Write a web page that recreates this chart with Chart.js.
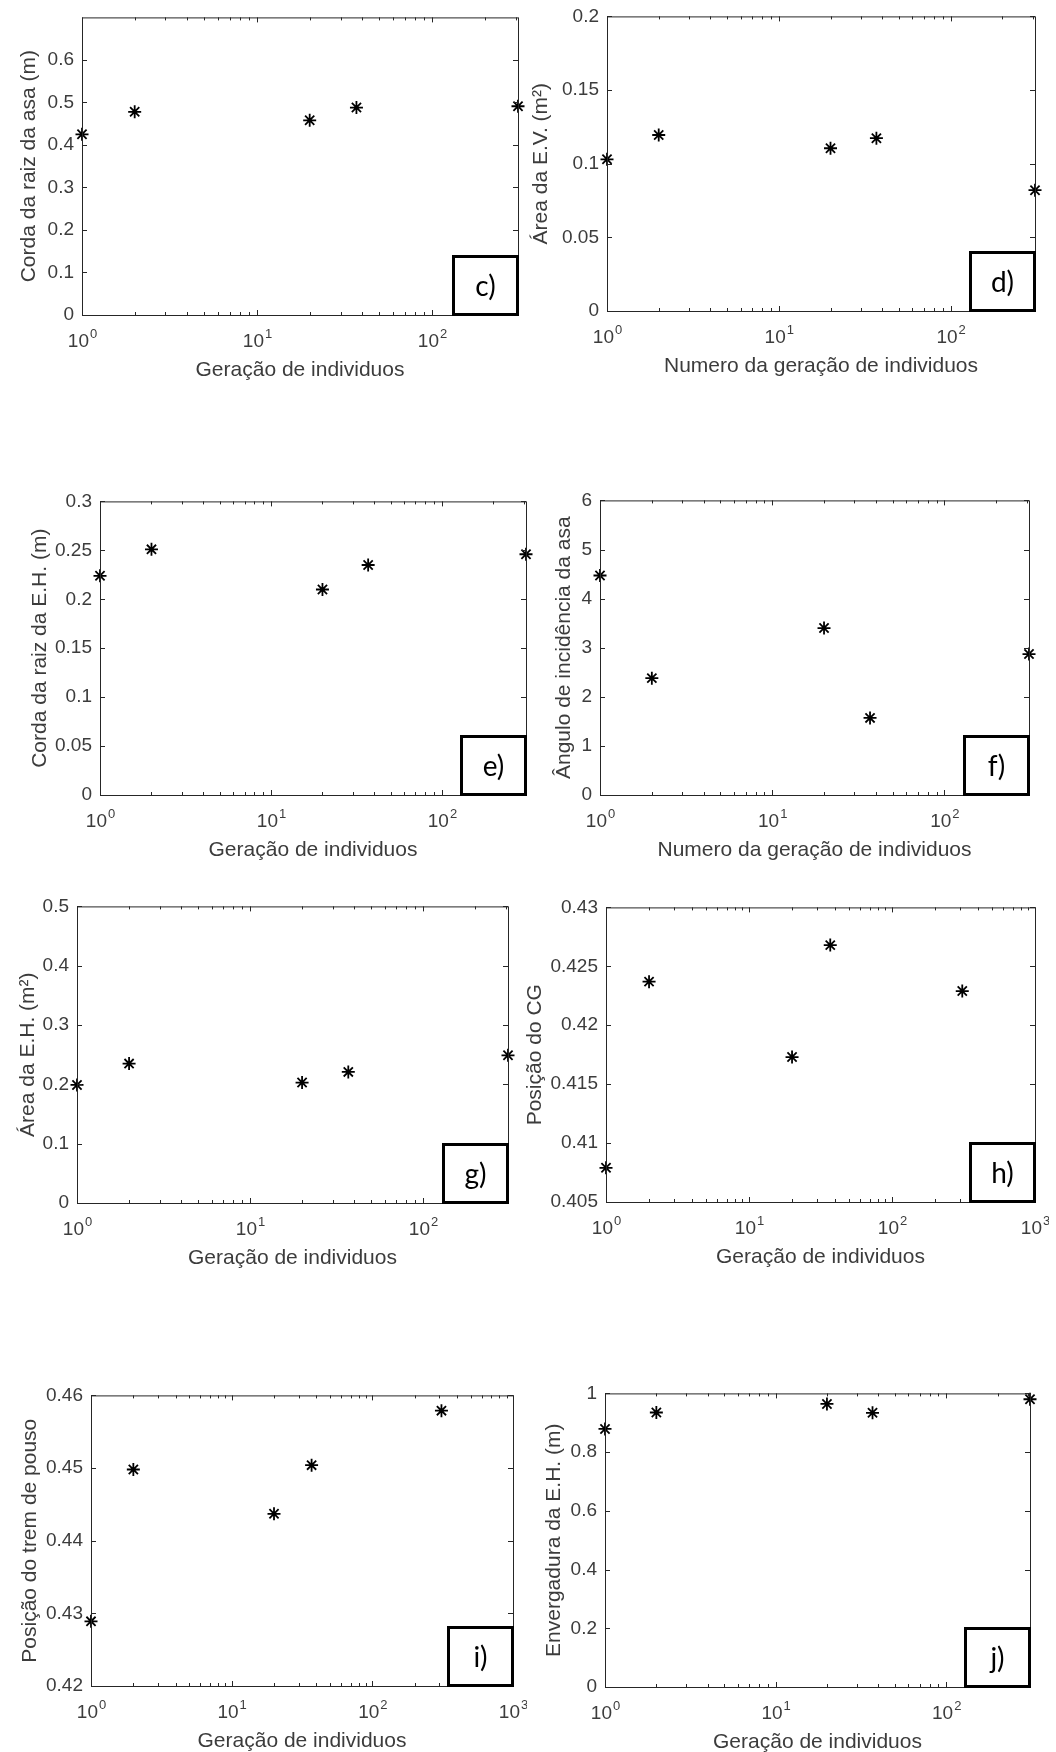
<!DOCTYPE html>
<html>
<head>
    <title>Evolução dos parâmetros por geração</title>
    <meta charset="UTF-8">
    <script src="https://cdn.jsdelivr.net/npm/chart.js"></script>
    <style>
        body {
            margin: 0;
            background-color: #fff;
            width: 1056px;
            height: 1752px;
            overflow: hidden;
            position: relative;
        }

        .painel {
            position: absolute;
        }
    </style>
</head>
<body>
    <div id="figura"></div>

    <script>
        // Dados (eixo x comum a todos os painéis)
        var geracoes = [1, 2, 20, 37, 310];

        var cordaRaizAsa = [0.425, 0.478, 0.458, 0.488, 0.491];
        var areaEV = [0.103, 0.1195, 0.1105, 0.1173, 0.082];
        var cordaRaizEH = [0.224, 0.251, 0.210, 0.235, 0.246];
        var anguloIncidencia = [4.47, 2.38, 3.40, 1.57, 2.87];
        var areaEH = [0.199, 0.235, 0.203, 0.221, 0.249];
        var posicaoCG = [0.4079, 0.4237, 0.4173, 0.4268, 0.4229];
        var posicaoTrem = [0.4289, 0.4498, 0.4437, 0.4504, 0.4579];
        var envergaduraEH = [0.879, 0.935, 0.964, 0.934, 0.98];

        // Marcas dos eixos
        var ticksC = [0, 0.1, 0.2, 0.3, 0.4, 0.5, 0.6];
        var ticksD = [0, 0.05, 0.1, 0.15, 0.2];
        var ticksE = [0, 0.05, 0.1, 0.15, 0.2, 0.25, 0.3];
        var ticksF = [0, 1, 2, 3, 4, 5, 6];
        var ticksG = [0, 0.1, 0.2, 0.3, 0.4, 0.5];
        var ticksH = [0.405, 0.41, 0.415, 0.42, 0.425, 0.43];
        var ticksI = [0.42, 0.43, 0.44, 0.45, 0.46];
        var ticksJ = [0, 0.2, 0.4, 0.6, 0.8, 1];

        var decadas3 = [1, 10, 100];
        var decadas4 = [1, 10, 100, 1000];

        var tituloGeracao = 'Geração de individuos';
        var tituloNumero = 'Numero da geração de individuos';

        // margens do canvas em volta da área de plotagem
        var PADL = 86, PADT = 16, PADR = 14, PADB = 80;
        var corTexto = '#3c3c3c';
        var fonte = '"Liberation Sans", Arial, Helvetica, sans-serif';

        var paineis = [
            { letra: 'c)', y: cordaRaizAsa, ticks: ticksC, min: 0, max: 0.7, xMax: 310, decadas: decadas3,
              tituloY: 'Corda da raiz da asa (m)', tituloX: tituloGeracao,
              area: [82, 14, 518, 315], offY: 53 },
            { letra: 'd)', y: areaEV, ticks: ticksD, min: 0, max: 0.2, xMax: 310, decadas: decadas3,
              tituloY: 'Área da E.V. (m²)', tituloX: tituloNumero,
              area: [607, 13, 1035, 311], offY: 66 },
            { letra: 'e)', y: cordaRaizEH, ticks: ticksE, min: 0, max: 0.3, xMax: 310, decadas: decadas3,
              tituloY: 'Corda da raiz da E.H. (m)', tituloX: tituloGeracao,
              area: [100, 498, 526, 795], offY: 60 },
            { letra: 'f)', y: anguloIncidencia, ticks: ticksF, min: 0, max: 6, xMax: 310, decadas: decadas3,
              tituloY: 'Ângulo de incidência da asa', tituloX: tituloNumero,
              area: [600, 497, 1029, 795], offY: 36 },
            { letra: 'g)', y: areaEH, ticks: ticksG, min: 0, max: 0.5, xMax: 310, decadas: decadas3,
              tituloY: 'Área da E.H. (m²)', tituloX: tituloGeracao,
              area: [77, 903, 508, 1203], offY: 49 },
            { letra: 'h)', y: posicaoCG, ticks: ticksH, min: 0.405, max: 0.43, xMax: 1000, decadas: decadas4,
              tituloY: 'Posição do CG', tituloX: tituloGeracao,
              area: [606, 904, 1035, 1202], offY: 71 },
            { letra: 'i)', y: posicaoTrem, ticks: ticksI, min: 0.42, max: 0.46, xMax: 1000, decadas: decadas4,
              tituloY: 'Posição do trem de pouso', tituloX: tituloGeracao,
              area: [91, 1392, 513, 1686], offY: 61 },
            { letra: 'j)', y: envergaduraEH, ticks: ticksJ, min: 0, max: 1, xMax: 310, decadas: decadas3,
              tituloY: 'Envergadura da E.H. (m)', tituloX: tituloGeracao,
              area: [605, 1390, 1030, 1687], offY: 51 }
        ];

        // Caixa do eixo, marcas internas, rótulos 10^n e a caixa com a letra
        var eixosMatlab = {
            id: 'eixosMatlab',
            afterDraw: function(chart) {
                var cfg = chart.options.plugins.eixosMatlab;
                var ctx = chart.ctx;
                var a = chart.chartArea;
                var sx = chart.scales.x;
                var sy = chart.scales.y;

                ctx.save();
                ctx.strokeStyle = '#262626';
                ctx.lineWidth = 1;
                ctx.beginPath();
                sy.ticks.forEach(function(t) {
                    var py = Math.round(sy.getPixelForValue(t.value)) + 0.5;
                    ctx.moveTo(a.left, py); ctx.lineTo(a.left + 5, py);
                    ctx.moveTo(a.right, py); ctx.lineTo(a.right - 5, py);
                });
                cfg.decadas.forEach(function(d) {
                    var px = Math.round(sx.getPixelForValue(d)) + 0.5;
                    ctx.moveTo(px, a.bottom); ctx.lineTo(px, a.bottom - 5);
                    ctx.moveTo(px, a.top); ctx.lineTo(px, a.top + 5);
                    for (var m = 2; m <= 9; m++) {
                        if (m * d >= sx.max) break;
                        var pm = Math.round(sx.getPixelForValue(m * d)) + 0.5;
                        ctx.moveTo(pm, a.bottom); ctx.lineTo(pm, a.bottom - 3);
                        ctx.moveTo(pm, a.top); ctx.lineTo(pm, a.top + 3);
                    }
                });
                ctx.stroke();
                ctx.strokeRect(a.left + 0.5, a.top + 0.5, a.right - a.left, a.bottom - a.top);

                // rótulos 10^n
                ctx.fillStyle = corTexto;
                ctx.textBaseline = 'middle';
                ctx.textAlign = 'left';
                cfg.decadas.forEach(function(d, n) {
                    var px = sx.getPixelForValue(d);
                    ctx.font = '19px ' + fonte;
                    var w10 = ctx.measureText('10').width;
                    ctx.font = '13px ' + fonte;
                    var wExp = ctx.measureText(String(n)).width;
                    var x0 = px - (w10 + wExp) / 2;
                    ctx.font = '19px ' + fonte;
                    ctx.fillText('10', x0, a.bottom + 27);
                    ctx.font = '13px ' + fonte;
                    ctx.fillText(String(n), x0 + w10 + 1, a.bottom + 19);
                });

                // caixa da letra
                var bw = 67, bh = 61;
                var bx = a.right + 1 - bw, by = a.bottom + 1 - bh;
                ctx.fillStyle = '#fff';
                ctx.fillRect(bx, by, bw, bh);
                ctx.strokeStyle = '#000';
                ctx.lineWidth = 3;
                ctx.strokeRect(bx + 1.5, by + 1.5, bw - 3, bh - 3);
                ctx.fillStyle = '#000';
                ctx.font = '28px Lato, "Open Sans", sans-serif';
                ctx.textAlign = 'center';
                ctx.fillText(cfg.letra, bx + bw / 2, by + bh / 2 + 1);
                ctx.restore();
            }
        };

        var figura = document.getElementById('figura');

        paineis.forEach(function(p, idx) {
            var l = p.area[0], t = p.area[1], r = p.area[2], b = p.area[3];
            var div = document.createElement('div');
            div.className = 'painel';
            div.style.left = (l - PADL) + 'px';
            div.style.top = (t - PADT) + 'px';
            div.style.width = (r - l + PADL + PADR) + 'px';
            div.style.height = (b - t + PADT + PADB) + 'px';
            var canvas = document.createElement('canvas');
            canvas.id = 'grafico' + idx;
            div.appendChild(canvas);
            figura.appendChild(div);

            var pontos = geracoes.map(function(g, i) {
                return { x: g, y: p.y[i] };
            });

            new Chart(canvas.getContext('2d'), {
                type: 'scatter',
                data: {
                    datasets: [{
                        data: pontos,
                        pointStyle: 'star',
                        pointRadius: 6.5,
                        pointBorderWidth: 1.8,
                        borderColor: '#000',
                        backgroundColor: '#000',
                        clip: false
                    }]
                },
                plugins: [eixosMatlab],
                options: {
                    responsive: true,
                    maintainAspectRatio: false,
                    animation: false,
                    events: [],
                    layout: { padding: { left: 0, top: PADT, right: PADR, bottom: 0 } },
                    plugins: {
                        legend: { display: false },
                        tooltip: { enabled: false },
                        eixosMatlab: { letra: p.letra, decadas: p.decadas }
                    },
                    scales: {
                        x: {
                            type: 'logarithmic',
                            min: 1,
                            max: p.xMax,
                            grid: { display: false, drawTicks: false },
                            border: { display: false },
                            ticks: { display: false },
                            title: {
                                display: true,
                                text: p.tituloX,
                                color: corTexto,
                                font: { size: 21, family: fonte },
                                padding: { top: 0, bottom: PADB - 55 - 12.6 }
                            },
                            afterFit: function(scale) { scale.height = PADB; }
                        },
                        y: {
                            min: p.min,
                            max: p.max,
                            grid: { display: false, drawTicks: false },
                            border: { display: false },
                            ticks: {
                                color: corTexto,
                                padding: 8,
                                autoSkip: false,
                                font: { size: 19, family: fonte },
                                callback: function(v) { return String(+v.toFixed(4)); }
                            },
                            afterBuildTicks: function(scale) {
                                scale.ticks = p.ticks.map(function(v) { return { value: v }; });
                            },
                            title: {
                                display: true,
                                text: p.tituloY,
                                color: corTexto,
                                font: { size: 21, family: fonte },
                                padding: { top: PADL - p.offY - 12.6, bottom: 0 }
                            },
                            afterFit: function(scale) { scale.width = PADL; }
                        }
                    }
                }
            });
        });
    </script>
</body>
</html>
